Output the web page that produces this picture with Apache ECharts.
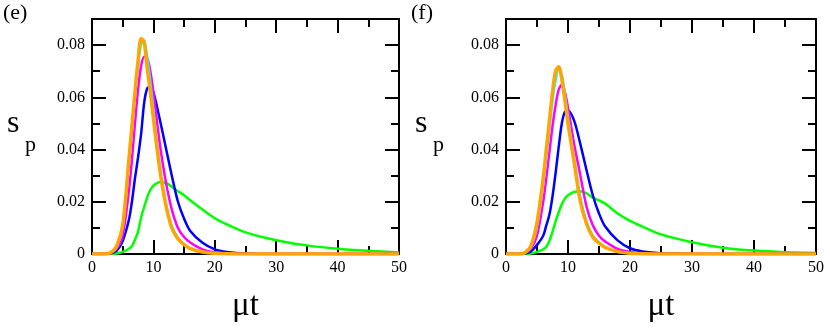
<!DOCTYPE html>
<html>
<head>
<meta charset="utf-8">
<script src="https://cdn.jsdelivr.net/npm/echarts@6/dist/echarts.min.js"></script>
<style>
  html, body { margin: 0; padding: 0; background: #fff; }
  #wrap { width: 830px; height: 328px; position: relative; }
  #chartE { position: absolute; left: 0; top: 0; width: 410px; height: 328px; }
  #chartF { position: absolute; left: 410px; top: 0; width: 420px; height: 328px; }
</style>
</head>
<body>
<div id="wrap"><div id="chartE"></div><div id="chartF"></div></div>
<script>
// sample times (mu t) shared by every curve
const tValues = [0, 2, 3, 4, 5, 6, 6.5, 7, 7.5, 8, 8.5, 9, 9.5, 10, 11, 12, 13, 14, 15, 16, 18, 20, 22, 25, 30, 35, 40, 45, 50];

// panel (e)
const greenE   = [0, 0, 0, 0.0002, 0.0008, 0.002, 0.003, 0.0055, 0.0085, 0.014, 0.018, 0.0218, 0.0245, 0.0262, 0.0275, 0.0273, 0.0258, 0.024, 0.0225, 0.0206, 0.017, 0.0137, 0.0113, 0.0083, 0.0053, 0.0033, 0.002, 0.0012, 0.0006];
const blueE    = [0, 0, 0.0002, 0.0012, 0.005, 0.013, 0.020, 0.029, 0.037, 0.046, 0.058, 0.0635, 0.064, 0.062, 0.052, 0.041, 0.030, 0.020, 0.0135, 0.0088, 0.0043, 0.0018, 0.0008, 0.0002, 0, 0, 0, 0, 0];
const magentaE = [0, 0, 0.0003, 0.002, 0.007, 0.024, 0.036, 0.050, 0.063, 0.072, 0.0755, 0.075, 0.070, 0.062, 0.043, 0.028, 0.017, 0.010, 0.0065, 0.0044, 0.0018, 0.0007, 0.0003, 0.0001, 0, 0, 0, 0, 0];
const cyanE    = [0, 0, 0.0004, 0.0025, 0.010, 0.033, 0.046, 0.059, 0.071, 0.080, 0.082, 0.076, 0.067, 0.056, 0.035, 0.020, 0.011, 0.0063, 0.0038, 0.0023, 0.0009, 0.0003, 0.0001, 0, 0, 0, 0, 0, 0];
const orangeE  = [0, 0, 0.0005, 0.003, 0.011, 0.036, 0.049, 0.062, 0.074, 0.0825, 0.081, 0.071, 0.062, 0.052, 0.033, 0.019, 0.010, 0.0058, 0.0036, 0.0021, 0.0008, 0.0003, 0.0001, 0, 0, 0, 0, 0, 0];

// panel (f)
const greenF   = [0, 0, 0, 0.0002, 0.0008, 0.0018, 0.0028, 0.005, 0.0085, 0.0125, 0.016, 0.019, 0.0212, 0.0225, 0.0238, 0.024, 0.0232, 0.0216, 0.0205, 0.0193, 0.0155, 0.0127, 0.0105, 0.0075, 0.0045, 0.0024, 0.0013, 0.0007, 0.0004];
const blueF    = [0, 0, 0.0002, 0.001, 0.0035, 0.007, 0.011, 0.015, 0.022, 0.031, 0.041, 0.050, 0.0545, 0.055, 0.051, 0.042, 0.032, 0.0225, 0.0155, 0.0105, 0.0052, 0.0022, 0.001, 0.0003, 0.0001, 0, 0, 0, 0];
const magentaF = [0, 0, 0.0003, 0.002, 0.007, 0.020, 0.029, 0.039, 0.049, 0.057, 0.063, 0.0648, 0.062, 0.056, 0.042, 0.030, 0.018, 0.011, 0.007, 0.0048, 0.002, 0.0008, 0.0003, 0.0001, 0, 0, 0, 0, 0];
const cyanF    = [0, 0, 0.0004, 0.0025, 0.010, 0.026, 0.036, 0.047, 0.058, 0.066, 0.0705, 0.069, 0.062, 0.053, 0.037, 0.022, 0.0125, 0.0072, 0.0045, 0.0027, 0.001, 0.0003, 0.0001, 0, 0, 0, 0, 0, 0];
const orangeF  = [0, 0, 0.0005, 0.003, 0.012, 0.029, 0.040, 0.051, 0.062, 0.070, 0.0717, 0.067, 0.059, 0.050, 0.035, 0.020, 0.0115, 0.0065, 0.0042, 0.0025, 0.0009, 0.0003, 0.0001, 0, 0, 0, 0, 0, 0];

const xLabel = 'μt';
const FONT = 'Liberation Serif';
const LABEL_SIZE = 16; // bigger axis labels make v6 drop the ticks here
const colors = ['#00ff00', '#0000ff', '#ff00ff', '#00ffff', '#ffa500'];
const widths = [2.5, 2.5, 2.5, 2, 3.5];

const black = w => ({ color: '#000', width: w });

// labels only on 0, 0.02 ... 0.08
function yFmt(v) {
  const k = Math.round(v * 100);
  if (k % 2 !== 0 || k > 8) return '';
  return k === 0 ? '0' : (k / 100).toFixed(2);
}

function xAxis(pos) {
  return {
    type: 'value', position: pos, min: 0, max: 50, interval: 10,
    name: pos === 'bottom' ? xLabel : '', nameLocation: 'middle', nameGap: 36,
    nameTextStyle: { fontFamily: FONT, fontSize: 33, color: '#000' },
    axisLine: { show: true, onZero: false, lineStyle: black(2) },
    axisTick: { show: true, inside: true, length: 14, lineStyle: black(2) },
    minorTick: { show: true, splitNumber: 2, length: 8, lineStyle: black(2) },
    axisLabel: { show: pos === 'bottom', fontFamily: FONT, fontSize: LABEL_SIZE, color: '#000', margin: 6 },
    splitLine: { show: false }
  };
}

function yAxis(pos) {
  return {
    type: 'value', position: pos, min: 0, max: 0.09, interval: 0.02,
    axisLine: { show: true, onZero: false, lineStyle: black(2) },
    axisTick: { show: true, inside: true, length: 14, lineStyle: black(2) },
    minorTick: { show: true, splitNumber: 2, length: 8, lineStyle: black(2) },
    axisLabel: { show: pos === 'left', formatter: yFmt, fontFamily: FONT, fontSize: LABEL_SIZE, color: '#000', margin: 7 },
    splitLine: { show: false }
  };
}

function panelOption(curves, gridLeft, label, labelLeft) {
  return {
    animation: false,
    grid: { left: gridLeft, top: 19, width: 310, height: 246 },
    xAxis: [xAxis('bottom'), xAxis('top')],
    yAxis: [yAxis('left'), yAxis('right')],
    series: curves.map((ys, ci) => ({
      type: 'line',
      data: tValues.map((t, i) => [t, ys[i]]),
      showSymbol: false,
      smooth: 0.3,
      lineStyle: { color: colors[ci], width: widths[ci] }
    })),
    graphic: [
      { type: 'text', left: labelLeft, top: 2, style: { text: label, fontFamily: FONT, fontSize: 22, fill: '#000' } },
      { type: 'text', left: labelLeft + 4, top: 108, style: { text: 's', fontFamily: FONT, fontSize: 32, fill: '#000' } },
      { type: 'text', left: labelLeft + 22, top: 134, style: { text: 'p', fontFamily: FONT, fontSize: 22, fill: '#000' } }
    ]
  };
}

const chartE = echarts.init(document.getElementById('chartE'));
chartE.setOption(panelOption([greenE, blueE, magentaE, cyanE, orangeE], 92, '(e)', 3));

const chartF = echarts.init(document.getElementById('chartF'));
chartF.setOption(panelOption([greenF, blueF, magentaF, cyanF, orangeF], 96, '(f)', 1));
</script>
</body>
</html>
